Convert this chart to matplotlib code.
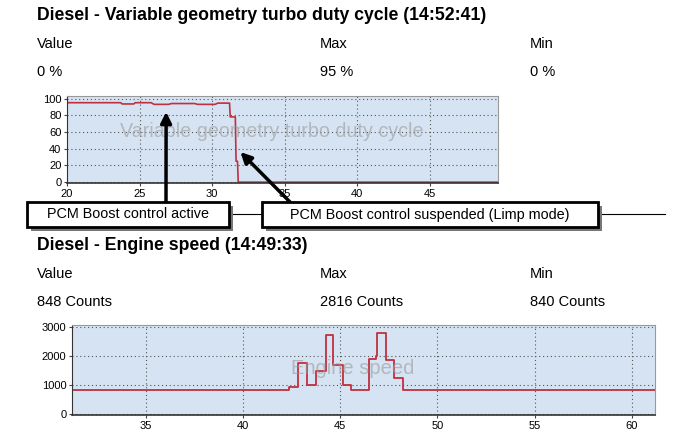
import matplotlib.pyplot as plt
from matplotlib.patches import Rectangle
from matplotlib.lines import Line2D

# turbo duty cycle trace (seconds, %)
vgt_t = [20, 23.7, 23.8, 24.6, 24.7, 25.8, 26.0, 27.0, 27.2, 28.8, 29.0, 30.2, 30.4, 31.2, 31.25, 31.6, 31.65, 31.75, 31.8, 49.7]
vgt_pct = [95, 95, 93.5, 93.5, 95, 95, 93, 93, 94, 94, 93, 93, 94.5, 94.5, 78, 78, 25, 25, 0, 0]

# engine speed trace (seconds, counts), step values
es_t = [31.2, 42.37, 42.84, 43.3, 43.77, 44.28, 44.65, 45.16, 45.56, 46.49, 46.85, 46.9, 47.37, 47.79, 48.25, 61.2]
es_rpm = [840, 940, 1770, 1020, 1490, 2720, 1710, 1000, 840, 1900, 2000, 2816, 1890, 1270, 845, 845]

vgt_ticks_x = [20, 25, 30, 35, 40, 45]
vgt_ticks_y = [0, 20, 40, 60, 80, 100]
es_ticks_x = [35, 40, 45, 50, 55, 60]
es_ticks_y = [0, 1000, 2000, 3000]

panels = [
    ("Diesel - Variable geometry turbo duty cycle (14:52:41)", ["0 %", "95 %", "0 %"]),
    ("Diesel - Engine speed (14:49:33)", ["848 Counts", "2816 Counts", "840 Counts"]),
]

plt.rcParams['font.family'] = ['Liberation Sans', 'DejaVu Sans']

W, H = 700, 443
BG = '#d5e3f3'
LINE = '#c0303f'

fig = plt.figure(figsize=(7, 4.43), dpi=100)


def fx(px):
    return px / W


def fy(py):
    return 1 - py / H


# header text blocks
for (title, vals), ty in zip(panels, [15, 245]):
    fig.text(fx(37), fy(ty), title, fontsize=12.7, fontweight='bold', va='center')
    for col, label, v in zip([37, 320, 530], ["Value", "Max", "Min"], vals):
        fig.text(fx(col), fy(ty + 29), label, fontsize=10.5, va='center')
        fig.text(fx(col), fy(ty + 57), v, fontsize=10.5, va='center')


def style_axes(ax):
    ax.set_facecolor(BG)
    ax.grid(True, linestyle=(0, (1, 2.5)), color='#555555', linewidth=0.8)
    ax.tick_params(labelsize=8, length=2, color='#444444', pad=2)
    for s in ax.spines.values():
        s.set_color('#999999')
        s.set_linewidth(0.8)
    ax.spines['bottom'].set_color('#333333')
    ax.spines['bottom'].set_linewidth(1.2)
    ax.spines['left'].set_color('#333333')


# top chart
ax1 = fig.add_axes([fx(67), fy(183), fx(498 - 67), (183 - 96) / H])
ax1.plot(vgt_t, vgt_pct, color=LINE, linewidth=1.2)
ax1.set_xlim(20, 49.7)
ax1.set_ylim(-1, 103)
ax1.set_xticks(vgt_ticks_x)
ax1.set_yticks(vgt_ticks_y)
style_axes(ax1)
ax1.text(0.475, 0.59, "Variable geometry turbo duty cycle", transform=ax1.transAxes,
         ha='center', va='center', fontsize=14.2, color='#9a9a9a', alpha=0.6)

# bottom chart
ax2 = fig.add_axes([fx(72), fy(415), fx(655 - 72), (415 - 325) / H])
ax2.plot(es_t, es_rpm, color=LINE, linewidth=1.3, drawstyle='steps-post')
ax2.set_xlim(31.2, 61.2)
ax2.set_ylim(-20, 3080)
ax2.set_xticks(es_ticks_x)
ax2.set_yticks(es_ticks_y)
style_axes(ax2)
ax2.text(0.482, 0.52, "Engine speed", transform=ax2.transAxes,
         ha='center', va='center', fontsize=14.5, color='#9a9a9a', alpha=0.6)

# callout boxes with drop shadow
boxes = [(27, 202, 229, 227, "PCM Boost control active"),
         (262, 202, 598, 227, "PCM Boost control suspended (Limp mode)")]
for x0, y0, x1, y1, txt in boxes:
    shadow = Rectangle((fx(x0 + 4), fy(y1 + 4)), fx(x1 - x0), (y1 - y0) / H,
                       transform=fig.transFigure, facecolor='#777777', edgecolor='none', zorder=5)
    box = Rectangle((fx(x0), fy(y1)), fx(x1 - x0), (y1 - y0) / H,
                    transform=fig.transFigure, facecolor='white', edgecolor='black',
                    linewidth=2, zorder=6)
    fig.add_artist(shadow)
    fig.add_artist(box)
    fig.text(fx((x0 + x1) / 2), fy((y0 + y1) / 2), txt, ha='center', va='center',
             fontsize=10.4, zorder=7)

# connector lines between boxes
for xa, xb in [(229, 262), (598, 665)]:
    fig.add_artist(Line2D([fx(xa), fx(xb)], [fy(214), fy(214)], color='black',
                          linewidth=0.8, transform=fig.transFigure, zorder=4))

# arrows from boxes to the trace
arrow = dict(arrowstyle='-|>', color='black', lw=2.5, mutation_scale=16, shrinkA=0, shrinkB=0)
ax1.annotate("", xy=(26.83, 84), xytext=(fx(166), fy(202)), textcoords='figure fraction',
             arrowprops=arrow, annotation_clip=False, zorder=8)
ax1.annotate("", xy=(31.95, 36), xytext=(fx(290), fy(202)), textcoords='figure fraction',
             arrowprops=arrow, annotation_clip=False, zorder=8)

fig.savefig("out.png", dpi=100)
